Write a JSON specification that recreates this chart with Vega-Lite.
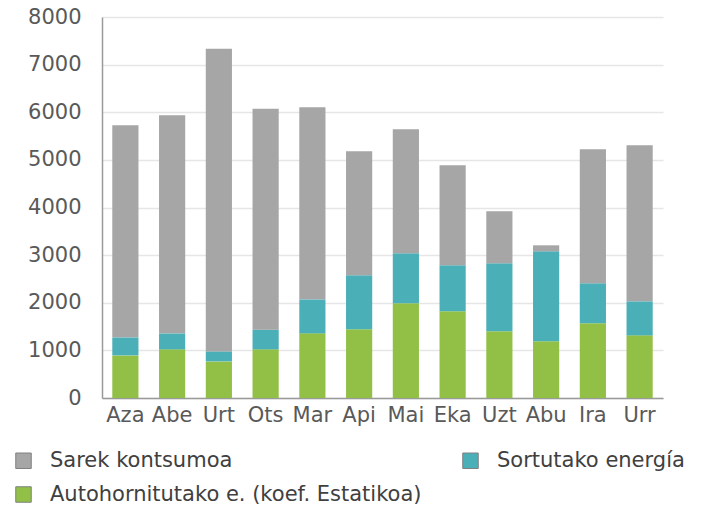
{
  "$schema": "https://vega.github.io/schema/vega-lite/v6.json",
  "width": 561,
  "height": 381,
  "autosize": "none",
  "padding": {"left": 102, "top": 17, "right": 41, "bottom": 111},
  "background": "white",
  "data": {
    "values": [
      {"month": "Aza", "series": "Autohornitutako e. (koef. Estatikoa)", "value": 895},
      {"month": "Aza", "series": "Sortutako energía", "value": 378},
      {"month": "Aza", "series": "Sarek kontsumoa", "value": 4454},
      {"month": "Abe", "series": "Autohornitutako e. (koef. Estatikoa)", "value": 1021},
      {"month": "Abe", "series": "Sortutako energía", "value": 336},
      {"month": "Abe", "series": "Sarek kontsumoa", "value": 4580},
      {"month": "Urt", "series": "Autohornitutako e. (koef. Estatikoa)", "value": 769},
      {"month": "Urt", "series": "Sortutako energía", "value": 210},
      {"month": "Urt", "series": "Sarek kontsumoa", "value": 6353},
      {"month": "Ots", "series": "Autohornitutako e. (koef. Estatikoa)", "value": 1021},
      {"month": "Ots", "series": "Sortutako energía", "value": 414},
      {"month": "Ots", "series": "Sarek kontsumoa", "value": 4636},
      {"month": "Mar", "series": "Autohornitutako e. (koef. Estatikoa)", "value": 1357},
      {"month": "Mar", "series": "Sortutako energía", "value": 714},
      {"month": "Mar", "series": "Sarek kontsumoa", "value": 4034},
      {"month": "Api", "series": "Autohornitutako e. (koef. Estatikoa)", "value": 1441},
      {"month": "Api", "series": "Sortutako energía", "value": 1135},
      {"month": "Api", "series": "Sarek kontsumoa", "value": 2605},
      {"month": "Mai", "series": "Autohornitutako e. (koef. Estatikoa)", "value": 1987},
      {"month": "Mai", "series": "Sortutako energía", "value": 1051},
      {"month": "Mai", "series": "Sarek kontsumoa", "value": 2605},
      {"month": "Eka", "series": "Autohornitutako e. (koef. Estatikoa)", "value": 1819},
      {"month": "Eka", "series": "Sortutako energía", "value": 967},
      {"month": "Eka", "series": "Sarek kontsumoa", "value": 2101},
      {"month": "Uzt", "series": "Autohornitutako e. (koef. Estatikoa)", "value": 1399},
      {"month": "Uzt", "series": "Sortutako energía", "value": 1429},
      {"month": "Uzt", "series": "Sarek kontsumoa", "value": 1092},
      {"month": "Abu", "series": "Autohornitutako e. (koef. Estatikoa)", "value": 1189},
      {"month": "Abu", "series": "Sortutako energía", "value": 1891},
      {"month": "Abu", "series": "Sarek kontsumoa", "value": 126},
      {"month": "Ira", "series": "Autohornitutako e. (koef. Estatikoa)", "value": 1567},
      {"month": "Ira", "series": "Sortutako energía", "value": 841},
      {"month": "Ira", "series": "Sarek kontsumoa", "value": 2815},
      {"month": "Urr", "series": "Autohornitutako e. (koef. Estatikoa)", "value": 1315},
      {"month": "Urr", "series": "Sortutako energía", "value": 715},
      {"month": "Urr", "series": "Sarek kontsumoa", "value": 3277}
    ]
  },
  "transform": [
    {"calculate": "indexof(['Autohornitutako e. (koef. Estatikoa)','Sortutako energía','Sarek kontsumoa'], datum.series)", "as": "stackOrder"}
  ],
  "mark": {"type": "bar"},
  "encoding": {
    "x": {
      "field": "month",
      "type": "nominal",
      "sort": ["Aza","Abe","Urt","Ots","Mar","Api","Mai","Eka","Uzt","Abu","Ira","Urr"],
      "scale": {"paddingInner": 0.44, "paddingOuter": 0.22},
      "axis": {
        "title": null,
        "labelAngle": 0,
        "labelFont": "DejaVu Sans",
        "labelFontSize": 21,
        "labelColor": "#595959",
        "labelPadding": 6,
        "ticks": false,
        "domainColor": "#9a9a9a",
        "domainWidth": 1.5,
        "grid": false
      }
    },
    "y": {
      "field": "value",
      "type": "quantitative",
      "stack": "zero",
      "scale": {"domain": [0, 8000], "nice": false},
      "axis": {
        "title": null,
        "values": [0,1000,2000,3000,4000,5000,6000,7000,8000],
        "format": "d",
        "labelFont": "DejaVu Sans",
        "labelFontSize": 21,
        "labelColor": "#595959",
        "labelPadding": 21,
        "ticks": false,
        "domainColor": "#9a9a9a",
        "domainWidth": 1.5,
        "gridColor": "#e6e6e6",
        "gridWidth": 1.5
      }
    },
    "color": {
      "field": "series",
      "type": "nominal",
      "scale": {
        "domain": ["Sarek kontsumoa", "Sortutako energía", "Autohornitutako e. (koef. Estatikoa)"],
        "range": ["#a6a6a6", "#4bafb7", "#92c047"]
      },
      "legend": {
        "title": null,
        "orient": "none",
        "direction": "horizontal",
        "columns": 2,
        "legendX": -89,
        "legendY": 433,
        "padding": 0,
        "symbolType": "square",
        "symbolSize": 240,
        "symbolStrokeWidth": 1,
        "symbolStrokeColor": "#808080",
        "labelFont": "DejaVu Sans",
        "labelFontSize": 21,
        "labelColor": "#404040",
        "labelOffset": 16,
        "labelLimit": 500,
        "columnPadding": 38,
        "rowPadding": 12
      }
    },
    "order": {"field": "stackOrder", "type": "quantitative"}
  },
  "config": {
    "view": {"stroke": null}
  }
}
